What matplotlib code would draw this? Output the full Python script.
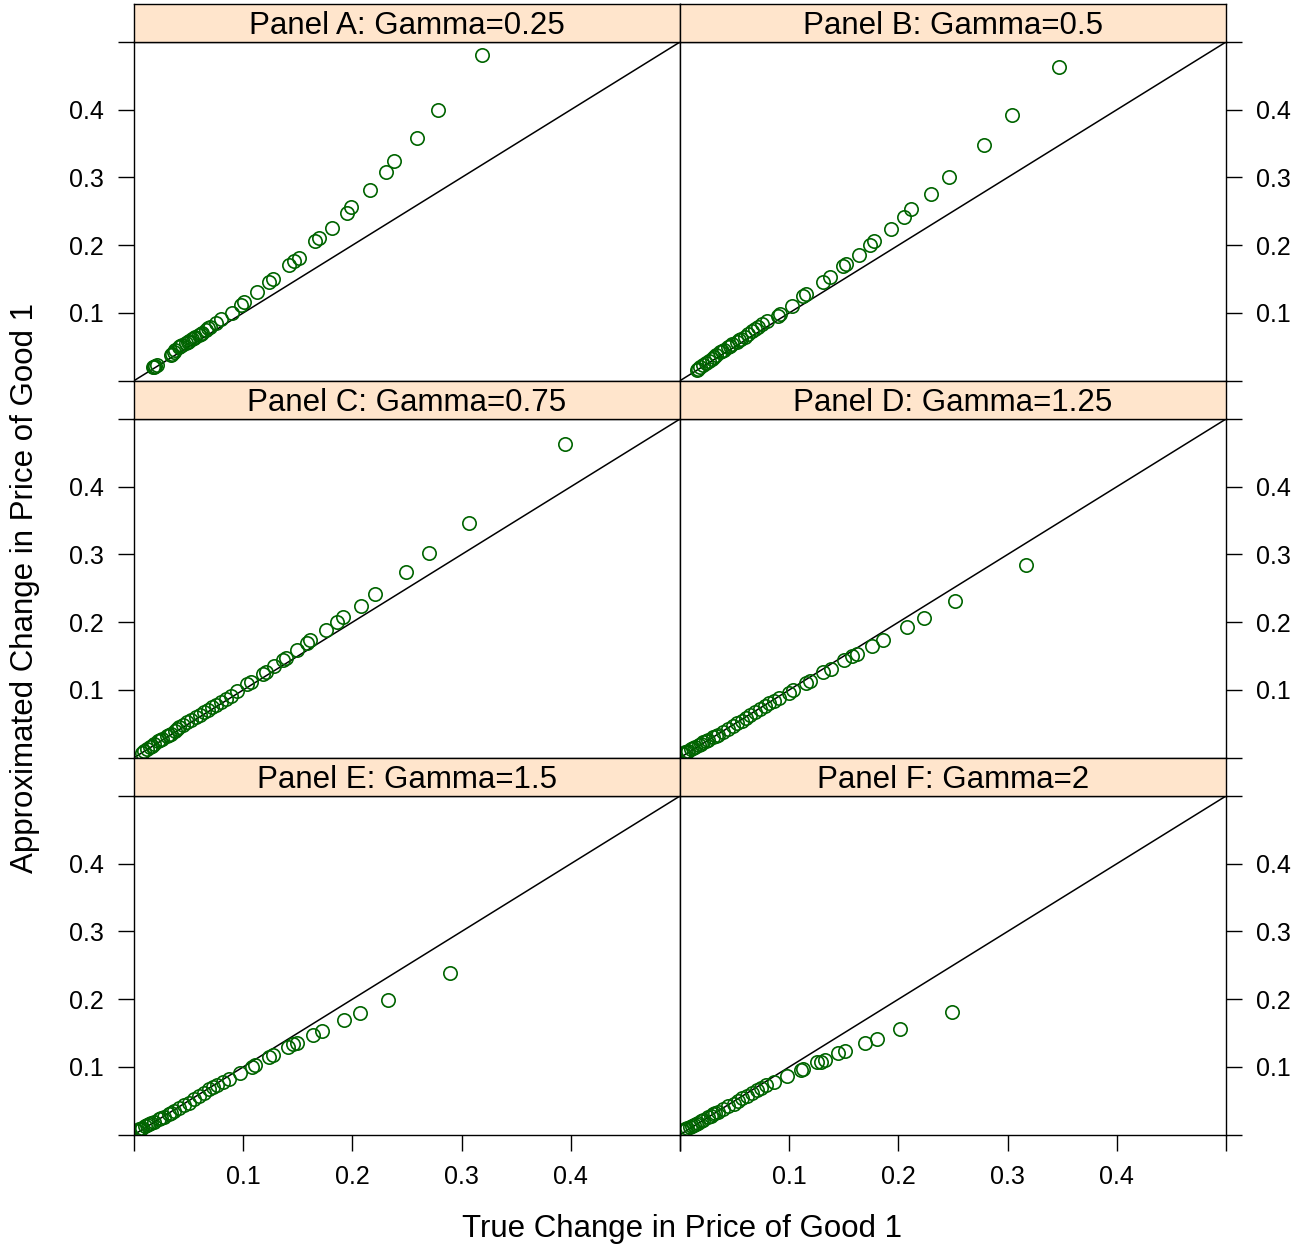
import matplotlib
matplotlib.use("Agg")
import matplotlib.pyplot as plt

plt.rcParams['font.family'] = ['Liberation Sans', 'DejaVu Sans']

panel_titles = ["Panel A: Gamma=0.25", "Panel B: Gamma=0.5", "Panel C: Gamma=0.75",
                "Panel D: Gamma=1.25", "Panel E: Gamma=1.5", "Panel F: Gamma=2"]

panel_a_x = [0.3188, 0.2785, 0.2596, 0.2377, 0.2310, 0.2163, 0.1986, 0.1946, 0.1812, 0.1693,
             0.1653, 0.1513, 0.1464, 0.1421, 0.1275, 0.1235, 0.1128, 0.1007, 0.0976, 0.0900,
             0.0793, 0.0748, 0.0700, 0.0656, 0.0625, 0.0595, 0.0560, 0.0534, 0.0500, 0.0473,
             0.0440, 0.0412, 0.0380, 0.0351, 0.0336, 0.0214, 0.0195, 0.0183, 0.0172,
             0.0680, 0.0610, 0.0545, 0.0490, 0.0425, 0.0365]
panel_a_y = [0.4810, 0.4000, 0.3590, 0.3250, 0.3080, 0.2810, 0.2570, 0.2470, 0.2250, 0.2110,
             0.2060, 0.1810, 0.1770, 0.1705, 0.1508, 0.1450, 0.1310, 0.1164, 0.1114, 0.1005,
             0.0916, 0.0857, 0.0800, 0.0745, 0.0710, 0.0680, 0.0650, 0.0620, 0.0585, 0.0557,
             0.0525, 0.0498, 0.0450, 0.0400, 0.0375, 0.0227, 0.0215, 0.0202, 0.0195,
             0.0775, 0.0695, 0.0635, 0.0570, 0.0510, 0.0425]

panel_b_x = [0.3472, 0.3042, 0.2782, 0.2462, 0.2296, 0.2113, 0.2052, 0.1930, 0.1775, 0.1738,
             0.1641, 0.1519, 0.1489, 0.1373, 0.1312, 0.1153, 0.1123, 0.1025, 0.0915, 0.0900,
             0.0799, 0.0717, 0.0685, 0.0656, 0.0625, 0.0595, 0.0560, 0.0519, 0.0480, 0.0443,
             0.0405, 0.0366, 0.0330, 0.0290, 0.0240, 0.0183, 0.0165, 0.0153,
             0.0750, 0.0540, 0.0460, 0.0385, 0.0310, 0.0265, 0.0210]
panel_b_y = [0.4636, 0.3922, 0.3483, 0.3006, 0.2755, 0.2542, 0.2419, 0.2246, 0.2060, 0.2010,
             0.1853, 0.1729, 0.1695, 0.1532, 0.1459, 0.1277, 0.1252, 0.1104, 0.0990, 0.0956,
             0.0878, 0.0794, 0.0760, 0.0730, 0.0690, 0.0646, 0.0610, 0.0572, 0.0535, 0.0498,
             0.0460, 0.0424, 0.0375, 0.0325, 0.0265, 0.0202, 0.0180, 0.0154,
             0.0830, 0.0595, 0.0515, 0.0440, 0.0350, 0.0298, 0.0235]

panel_c_x = [0.3951, 0.3069, 0.2703, 0.2490, 0.2208, 0.2075, 0.1913, 0.1855, 0.1760, 0.1614,
             0.1580, 0.1494, 0.1388, 0.1366, 0.1281, 0.1205, 0.1184, 0.1068, 0.1037, 0.0946,
             0.0885, 0.0840, 0.0793, 0.0755, 0.0717, 0.0680, 0.0641, 0.0600, 0.0565, 0.0525,
             0.0488, 0.0450, 0.0412, 0.0375, 0.0336, 0.0300, 0.0259, 0.0220, 0.0183, 0.0150,
             0.0122, 0.0092, 0.0070, 0.0165, 0.0240, 0.0320, 0.0395]
panel_c_y = [0.4626, 0.3464, 0.3021, 0.2744, 0.2419, 0.2246, 0.2084, 0.2001, 0.1883, 0.1735,
             0.1695, 0.1587, 0.1469, 0.1448, 0.1351, 0.1262, 0.1237, 0.1114, 0.1089, 0.0990,
             0.0916, 0.0870, 0.0819, 0.0780, 0.0745, 0.0710, 0.0671, 0.0635, 0.0597, 0.0560,
             0.0523, 0.0485, 0.0449, 0.0400, 0.0350, 0.0315, 0.0276, 0.0240, 0.0202, 0.0165,
             0.0129, 0.0095, 0.0075, 0.0180, 0.0255, 0.0335, 0.0420]

panel_d_x = [0.3167, 0.2517, 0.2236, 0.2077, 0.1855, 0.1757, 0.1617, 0.1577, 0.1501, 0.1379,
             0.1312, 0.1190, 0.1153, 0.1037, 0.0998, 0.0909, 0.0860, 0.0817, 0.0775, 0.0732,
             0.0690, 0.0641, 0.0600, 0.0565, 0.0525, 0.0488, 0.0440, 0.0397, 0.0350, 0.0305,
             0.0260, 0.0214, 0.0175, 0.0137, 0.0105, 0.0076, 0.0046, 0.0030, 0.0060, 0.0120,
             0.0190, 0.0235, 0.0330]
panel_d_y = [0.2843, 0.2311, 0.2064, 0.1936, 0.1739, 0.1646, 0.1528, 0.1498, 0.1444, 0.1311,
             0.1262, 0.1129, 0.1099, 0.1000, 0.0956, 0.0878, 0.0840, 0.0804, 0.0760, 0.0720,
             0.0675, 0.0631, 0.0590, 0.0547, 0.0510, 0.0473, 0.0425, 0.0375, 0.0340, 0.0301,
             0.0265, 0.0227, 0.0190, 0.0154, 0.0128, 0.0103, 0.0080, 0.0060, 0.0090, 0.0140,
             0.0205, 0.0245, 0.0320]

panel_e_x = [0.2898, 0.2322, 0.2068, 0.1925, 0.1723, 0.1641, 0.1494, 0.1458, 0.1409, 0.1275,
             0.1235, 0.1104, 0.1083, 0.0970, 0.0869, 0.0815, 0.0762, 0.0725, 0.0686, 0.0640,
             0.0595, 0.0550, 0.0503, 0.0455, 0.0412, 0.0365, 0.0320, 0.0275, 0.0229, 0.0185,
             0.0137, 0.0105, 0.0076, 0.0046, 0.0030, 0.0060, 0.0120, 0.0160, 0.0250, 0.0340]
panel_e_y = [0.2390, 0.1986, 0.1794, 0.1695, 0.1528, 0.1469, 0.1360, 0.1336, 0.1300, 0.1173,
             0.1148, 0.1026, 0.1005, 0.0907, 0.0818, 0.0775, 0.0734, 0.0700, 0.0670, 0.0620,
             0.0572, 0.0520, 0.0473, 0.0435, 0.0399, 0.0350, 0.0301, 0.0265, 0.0227, 0.0190,
             0.0154, 0.0128, 0.0103, 0.0080, 0.0060, 0.0090, 0.0140, 0.0170, 0.0245, 0.0325]

panel_f_x = [0.2487, 0.2011, 0.1803, 0.1693, 0.1510, 0.1446, 0.1330, 0.1288, 0.1251, 0.1129,
             0.1110, 0.0977, 0.0863, 0.0787, 0.0745, 0.0702, 0.0655, 0.0610, 0.0570, 0.0534,
             0.0490, 0.0443, 0.0395, 0.0351, 0.0305, 0.0259, 0.0212, 0.0168, 0.0130, 0.0092,
             0.0046, 0.0030, 0.0065, 0.0110, 0.0150, 0.0190, 0.0280, 0.0325]
panel_f_y = [0.1809, 0.1558, 0.1410, 0.1360, 0.1232, 0.1203, 0.1100, 0.1079, 0.1074, 0.0966,
             0.0956, 0.0867, 0.0779, 0.0730, 0.0695, 0.0656, 0.0615, 0.0572, 0.0535, 0.0498,
             0.0460, 0.0424, 0.0380, 0.0335, 0.0300, 0.0262, 0.0220, 0.0177, 0.0145, 0.0114,
             0.0080, 0.0060, 0.0095, 0.0128, 0.0160, 0.0198, 0.0280, 0.0315]

panels_x = [panel_a_x, panel_b_x, panel_c_x, panel_d_x, panel_e_x, panel_f_x]
panels_y = [panel_a_y, panel_b_y, panel_c_y, panel_d_y, panel_e_y, panel_f_y]

tick_values = [0.0, 0.1, 0.2, 0.3, 0.4, 0.5]
tick_labels = ["", "0.1", "0.2", "0.3", "0.4", ""]

W, H = 1306, 1247
fig = plt.figure(figsize=(W / 100, H / 100), dpi=100)


def box(x0, y0, x1, y1):
    return [x0 / W, 1 - y1 / H, (x1 - x0) / W, (y1 - y0) / H]


col_edges = [(134, 680), (680, 1226)]
row_tops = [42, 419, 796]
plot_h = 338.7
strip_h = 38

for i in range(6):
    r, c = i // 2, i % 2
    x0, x1 = col_edges[c]
    top = row_tops[r]
    ax = fig.add_axes(box(x0, top, x1, top + plot_h))
    ax.plot([0, 0.5], [0, 0.5], color="black", lw=1.1)
    ax.plot(panels_x[i], panels_y[i], "o", mfc="none", mec="#006400", ms=9.6, mew=1.2)
    ax.set_xlim(0, 0.5)
    ax.set_ylim(0, 0.5)
    for s in ax.spines.values():
        s.set_linewidth(1.0)
    ax.set_xticks(tick_values)
    ax.set_yticks(tick_values)
    ax.tick_params(direction="out", length=11.5, width=1.0, labelsize=18, pad=10,
                   bottom=(r == 2), labelbottom=(r == 2), top=False, labeltop=False,
                   left=(c == 0), labelleft=(c == 0), right=(c == 1), labelright=(c == 1))
    ax.set_xticklabels(tick_labels)
    ax.set_yticklabels(tick_labels)

    st = fig.add_axes(box(x0, top - strip_h, x1, top))
    st.set_facecolor("#ffe5cc")
    st.set_xticks([])
    st.set_yticks([])
    for s in st.spines.values():
        s.set_linewidth(1.0)
    st.text(0.5, 0.42, panel_titles[i], ha="center", va="center", fontsize=22.5,
            transform=st.transAxes)

fig.text(682 / W, 1 - 1229 / H, "True Change in Price of Good 1", ha="center", va="center",
         fontsize=22.5)
fig.text(25 / W, 1 - 588 / H, "Approximated Change in Price of Good 1", ha="center",
         va="center", rotation=90, fontsize=22.5)

fig.savefig("out.png", dpi=100)
